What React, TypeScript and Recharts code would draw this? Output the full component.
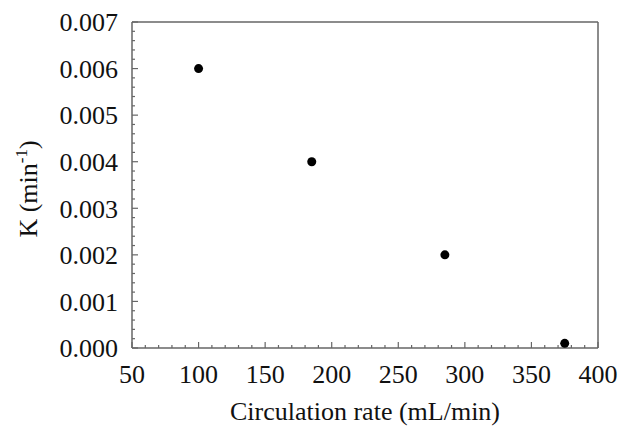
import { ScatterChart, Scatter, XAxis, YAxis } from "recharts";

const rates = [100, 185, 285, 375];
const kValues = [0.006, 0.004, 0.002, 0.0001];

const xMajor = [50, 100, 150, 200, 250, 300, 350, 400];
const yMajor = [0, 0.001, 0.002, 0.003, 0.004, 0.005, 0.006, 0.007];

// minor ticks: every 10 on x, every 0.0002 on y
const xMinor = Array.from({ length: 36 }, (_, i) => 50 + i * 10);
const yMinor = Array.from({ length: 36 }, (_, i) => +(i * 0.0002).toFixed(4));

const points = rates.map((r, i) => ({ rate: r, k: kValues[i] }));

const FONT = "'Liberation Serif', 'Times New Roman', serif";
const AXIS = "#666";
const TEXT = "#111";
const X_DOMAIN: [number, number] = [50, 400];
const Y_DOMAIN: [number, number] = [0, 0.007];
const X_MARGIN = 17;
const Y_MARGIN = 14;

const isMajor = (list: number[], v: number) => list.some((m) => Math.abs(m - v) < 1e-9);

// inward tick marks + labels on the major ones
function XTick(props: any) {
  const { x, y, payload } = props;
  const major = isMajor(xMajor, payload.value);
  const axisY = y - X_MARGIN;
  return (
    <g>
      <line x1={x} x2={x} y1={axisY} y2={axisY - (major ? 6 : 3)} stroke={AXIS} strokeWidth={1.2} />
      {major && (
        <text x={x} y={y} dy="0.71em" textAnchor="middle" fontFamily={FONT} fontSize={26} fill={TEXT}>
          {payload.value}
        </text>
      )}
    </g>
  );
}

function YTick(props: any) {
  const { x, y, payload } = props;
  const major = isMajor(yMajor, payload.value);
  const axisX = x + Y_MARGIN;
  return (
    <g>
      <line x1={axisX} x2={axisX + (major ? 6 : 3)} y1={y} y2={y} stroke={AXIS} strokeWidth={1.2} />
      {major && (
        <text x={x} y={y} dy="0.355em" textAnchor="end" fontFamily={FONT} fontSize={26} fill={TEXT}>
          {payload.value.toFixed(3)}
        </text>
      )}
    </g>
  );
}

function YLabel(props: any) {
  const vb = props.viewBox;
  const cy = vb.y + vb.height / 2 + 4;
  const x = 37;
  return (
    <text
      x={x}
      y={cy}
      transform={`rotate(-90, ${x}, ${cy})`}
      textAnchor="middle"
      fontFamily={FONT}
      fontSize={26}
      fill={TEXT}
    >
      K (min
      <tspan dy={-10} fontSize={17}>-1</tspan>
      <tspan dy={10}>)</tspan>
    </text>
  );
}

function XLabel(props: any) {
  const vb = props.viewBox;
  return (
    <text
      x={vb.x + vb.width / 2}
      y={vb.y + 72}
      textAnchor="middle"
      fontFamily={FONT}
      fontSize={26}
      fill={TEXT}
    >
      Circulation rate (mL/min)
    </text>
  );
}

export default function App() {
  return (
    <div style={{ fontFamily: FONT }}>
      <style>{`body{margin:0}`}</style>
      <ScatterChart
        width={619}
        height={426}
        margin={{ top: 22, right: 21, left: 0, bottom: 0 }}
      >
        <XAxis
          dataKey="rate"
          type="number"
          domain={X_DOMAIN}
          allowDataOverflow
          ticks={xMinor}
          interval={0}
          height={78}
          tickLine={false}
          tickSize={0}
          tickMargin={X_MARGIN}
          axisLine={{ stroke: AXIS, strokeWidth: 1.5 }}
          tick={XTick}
          label={{ content: XLabel }}
        />
        <XAxis xAxisId="top" orientation="top" type="number" domain={X_DOMAIN} allowDataOverflow mirror
          tick={false} tickLine={false} axisLine={{ stroke: AXIS, strokeWidth: 1.5 }} />

        <YAxis
          dataKey="k"
          type="number"
          domain={Y_DOMAIN}
          allowDataOverflow
          ticks={yMinor}
          interval={0}
          width={132}
          tickLine={false}
          tickSize={0}
          tickMargin={Y_MARGIN}
          axisLine={{ stroke: AXIS, strokeWidth: 1.5 }}
          tick={YTick}
          label={{ content: YLabel }}
        />
        <YAxis yAxisId="right" orientation="right" type="number" domain={Y_DOMAIN} allowDataOverflow mirror
          tick={false} tickLine={false} axisLine={{ stroke: AXIS, strokeWidth: 1.5 }} />

        <Scatter
          data={points}
          isAnimationActive={false}
          shape={(p: any) => <circle cx={p.cx} cy={p.cy} r={4.5} fill="#000" />}
        />
      </ScatterChart>
    </div>
  );
}
